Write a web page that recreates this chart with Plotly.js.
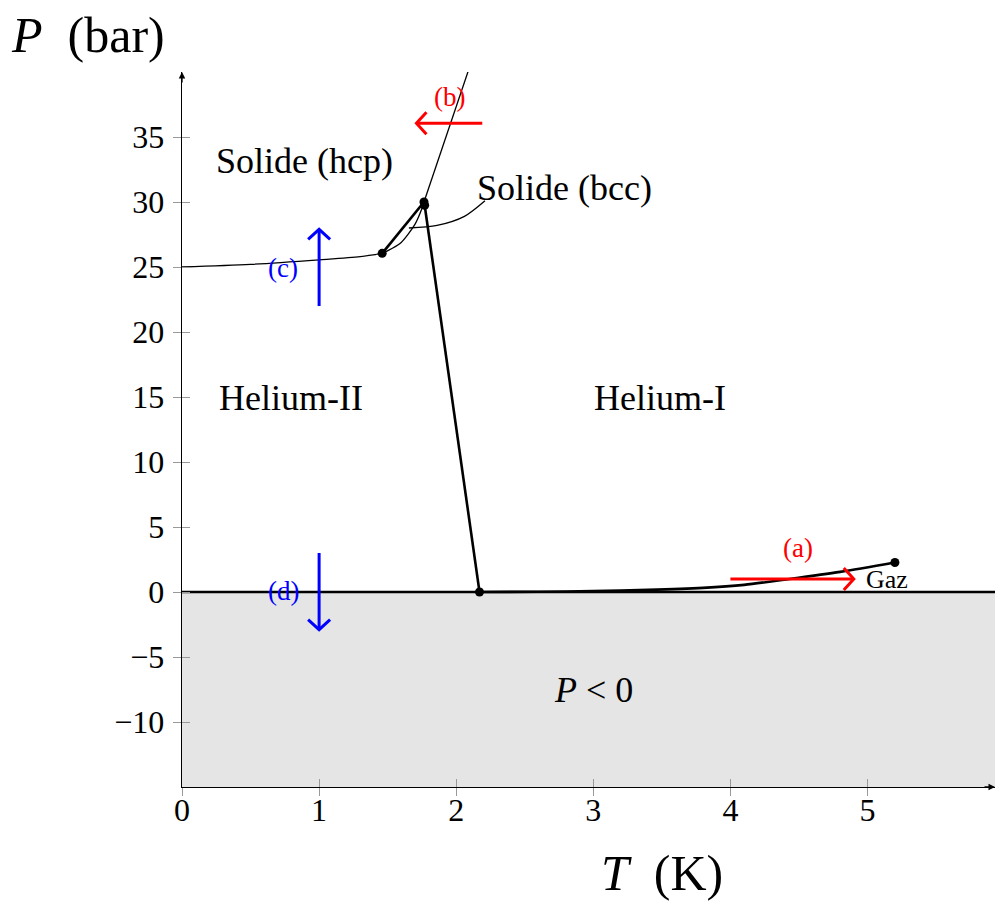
<!DOCTYPE html>
<html>
<head>
<meta charset="utf-8">
<script src="https://cdn.plot.ly/plotly-3.0.1.min.js"></script>
<style>body{margin:0;background:#fff}</style>
</head>
<body>
<div id="graphDiv" style="width:995px;height:903px"></div>
<script>
// axis ranges and ticks
var xMin = 0, xMax = 5.93;
var yMin = -15, yMax = 40;
var xTicks = [0, 1, 2, 3, 4, 5];
var yTicks = [-10, -5, 0, 5, 10, 15, 20, 25, 30, 35];

// melting curve (He-II / solid hcp), thin
var meltT = [0, 0.5, 1.0, 1.3, 1.46];
var meltP = [25.0, 25.2, 25.55, 25.8, 26.05];

// hcp / bcc boundary, thin
var hcpT = [1.46, 1.49, 1.59, 1.70, 1.75, 1.765];
var hcpP = [26.05, 26.2, 26.8, 28.3, 29.5, 30.0];

// He-II / bcc boundary, thick
var bccT = [1.46, 1.765];
var bccP = [26.05, 30.0];

// melting curve above the bcc pocket, thin
var upT = [1.765, 2.095];
var upP = [30.0, 40.3];

// lambda line, thick
var lamT = [1.77, 2.17];
var lamP = [29.75, 0];

// vapour pressure curve, thick
var vapT = [2.17, 2.6, 3.0, 3.4, 3.8, 4.1, 4.43, 4.8, 5.2];
var vapP = [0, 0.02, 0.07, 0.16, 0.32, 0.55, 1.0, 1.55, 2.27];

// special points
var dotT = [1.46, 1.765, 1.77, 2.17, 5.2];
var dotP = [26.05, 30.0, 29.75, 0, 2.27];

// leader curve to "Solide (bcc)"
var leadT = [1.655, 1.86, 2.06, 2.21];
var leadP = [28.0, 28.2, 28.9, 30.1];

// arrows: start, tip
var arrows = [
  {name: 'a', x0: 4.0, y0: 1.0, x1: 4.9, y1: 1.0, color: '#ff0000'},
  {name: 'b', x0: 2.19, y0: 36.05, x1: 1.71, y1: 36.05, color: '#ff0000'},
  {name: 'c', x0: 1.0, y0: 22.0, x1: 1.0, y1: 27.9, color: '#0000ff'},
  {name: 'd', x0: 1.0, y0: 3.0, x1: 1.0, y1: -2.9, color: '#0000ff'}
];

// labels
var labText = ['Solide (hcp)', 'Solide (bcc)', 'Helium-II', 'Helium-I', '<i>P</i> &lt; 0'];
var labX = [0.89, 2.79, 0.795, 3.49, 3.0];
var labY = [33.15, 31.1, 14.9, 14.9, -7.5];

var tagText = ['(a)', '(b)', '(c)', '(d)'];
var tagX = [4.49, 1.95, 0.74, 0.74];
var tagY = [3.4, 38.1, 24.9, 0.1];
var tagColor = ['#ff0000', '#ff0000', '#0000ff', '#0000ff'];

var W = 995, H = 903;
var mL = 182, mR = 0, mT = 72, mB = 116;
var pxX = (W - mL - mR) / (xMax - xMin);
var pxY = (H - mT - mB) / (yMax - yMin);
var serif = 'Liberation Serif, Times New Roman, serif';

function arrowPath(a) {
  var dx = (a.x1 - a.x0) * pxX, dy = (a.y1 - a.y0) * pxY;
  var len = Math.sqrt(dx * dx + dy * dy);
  var ux = dx / len, uy = dy / len;
  var back = 10, side = 11;
  var b1x = a.x1 + (-ux * back - uy * side) / pxX;
  var b1y = a.y1 + (-uy * back + ux * side) / pxY;
  var b2x = a.x1 + (-ux * back + uy * side) / pxX;
  var b2y = a.y1 + (-uy * back - ux * side) / pxY;
  return {
    x: [a.x0, a.x1, null, b1x, a.x1, b2x],
    y: [a.y0, a.y1, null, b1y, a.y1, b2y],
    mode: 'lines', type: 'scatter', hoverinfo: 'skip', showlegend: false,
    line: {color: a.color, width: 3}
  };
}

function line(x, y, w, shape) {
  return {x: x, y: y, mode: 'lines', type: 'scatter', hoverinfo: 'skip', showlegend: false,
    line: {color: '#000', width: w, shape: shape || 'linear', smoothing: 0.8}};
}

var data = [
  {x: [xMin, xMax, xMax, xMin, xMin], y: [yMin, yMin, 0, 0, yMin], mode: 'lines', fill: 'toself',
   fillcolor: '#e5e5e5', line: {width: 0}, type: 'scatter', hoverinfo: 'skip', showlegend: false},
  line([xMin, xMax], [0, 0], 2.6),
  line(meltT, meltP, 1.3, 'spline'),
  line(hcpT, hcpP, 1.3, 'spline'),
  line(upT, upP, 1.3),
  line(leadT, leadP, 1.3, 'spline'),
  line(bccT, bccP, 2.6),
  line(lamT, lamP, 2.6),
  line(vapT, vapP, 2.6, 'spline')
];
arrows.forEach(function (a) { data.push(arrowPath(a)); });
data.push({x: dotT, y: dotP, mode: 'markers', type: 'scatter', hoverinfo: 'skip', showlegend: false,
  marker: {color: '#000', size: 9}});
// empty trace carrying the outer half of the tick marks
data.push({x: [], y: [], xaxis: 'x2', yaxis: 'y2', type: 'scatter', mode: 'markers', showlegend: false});

var ann = [];
for (var i = 0; i < labText.length; i++) {
  ann.push({x: labX[i], y: labY[i], text: labText[i], showarrow: false,
    font: {family: serif, size: 36, color: '#000'}});
}
for (var j = 0; j < tagText.length; j++) {
  ann.push({x: tagX[j], y: tagY[j], text: tagText[j], showarrow: false,
    font: {family: serif, size: 27, color: tagColor[j]}});
}
ann.push({x: 5.14, y: 0.95, text: 'Gaz', showarrow: false, font: {family: serif, size: 26, color: '#000'}});
// axis titles
ann.push({xref: 'paper', yref: 'paper', x: -0.116, y: 1.052, xanchor: 'center', yanchor: 'middle',
  text: '<i>P</i>&nbsp;&nbsp;(bar)', showarrow: false, font: {family: serif, size: 50, color: '#000'}});
ann.push({xref: 'x', yref: 'paper', x: 3.5, y: -0.12, xanchor: 'center', yanchor: 'middle',
  text: '<i>T</i>&nbsp;&nbsp;(K)', showarrow: false, font: {family: serif, size: 50, color: '#000'}});
// axis arrow heads
ann.push({x: xMin, y: yMax, ax: 0, ay: 12, showarrow: true, arrowhead: 2, arrowsize: 1, arrowwidth: 1.3,
  arrowcolor: '#000', text: ''});
ann.push({x: xMax, y: yMin, ax: -12, ay: 0, showarrow: true, arrowhead: 2, arrowsize: 1, arrowwidth: 1.3,
  arrowcolor: '#000', text: ''});

var tickGray = '#999';
var layout = {
  width: W, height: H,
  margin: {l: mL, r: mR, t: mT, b: mB},
  paper_bgcolor: '#fff', plot_bgcolor: 'rgba(0,0,0,0)',
  showlegend: false,
  xaxis: {range: [xMin, xMax], tickvals: xTicks, showgrid: false, zeroline: false,
    showline: true, linecolor: '#000', linewidth: 1.3, ticks: 'inside', ticklen: 8, tickcolor: tickGray,
    ticklabelstandoff: -6, tickfont: {family: serif, size: 32, color: '#000'}, fixedrange: true},
  yaxis: {range: [yMin, yMax], tickvals: yTicks, showgrid: false, zeroline: false,
    showline: true, linecolor: '#000', linewidth: 1.3, ticks: 'inside', ticklen: 8, tickcolor: tickGray,
    ticklabelstandoff: 10, tickfont: {family: serif, size: 32, color: '#000'}, fixedrange: true},
  xaxis2: {range: [xMin, xMax], tickvals: xTicks, overlaying: 'x', anchor: 'y2', side: 'bottom',
    showgrid: false, zeroline: false, showline: false, ticks: 'outside', ticklen: 8, tickcolor: tickGray,
    showticklabels: false, fixedrange: true},
  yaxis2: {range: [yMin, yMax], tickvals: yTicks, overlaying: 'y', anchor: 'x2', side: 'left',
    showgrid: false, zeroline: false, showline: false, ticks: 'outside', ticklen: 8, tickcolor: tickGray,
    showticklabels: false, fixedrange: true},
  annotations: ann
};

Plotly.newPlot('graphDiv', data, layout, {displayModeBar: false, staticPlot: true});
</script>
</body>
</html>
